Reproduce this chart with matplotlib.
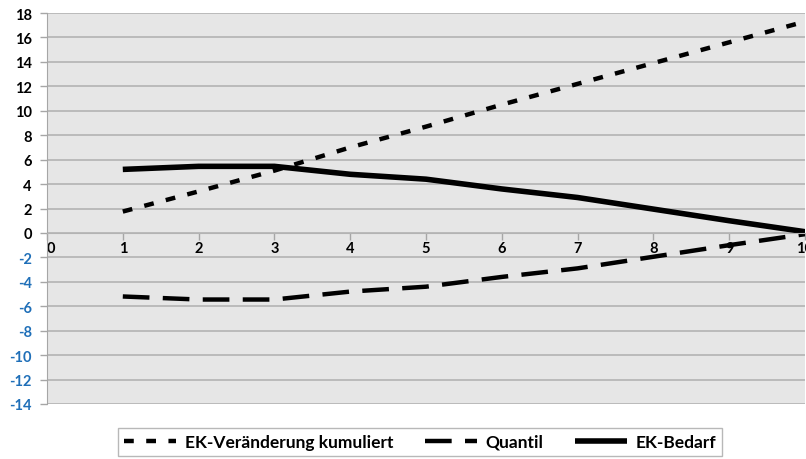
import matplotlib.pyplot as plt
import numpy as np

plt.rcParams['font.family'] = ['Lato', 'DejaVu Sans']
plt.rcParams['font.weight'] = 'bold'
plt.rcParams['axes.unicode_minus'] = False

# --- Data ---
years = [1, 2, 3, 4, 5, 6, 7, 8, 9, 10]
ek_change_cum = [1.75, 3.4, 5.1, 7.0, 8.7, 10.5, 12.2, 13.9, 15.6, 17.3]
ek_bedarf = [5.2, 5.45, 5.45, 4.8, 4.4, 3.6, 2.9, 1.95, 1.0, 0.1]
quantil = [-5.2, -5.45, -5.45, -4.8, -4.4, -3.6, -2.9, -1.95, -1.0, -0.1]
x_ticks = list(range(0, 11))
y_ticks = list(range(-14, 19, 2))

fig = plt.figure(figsize=(8.06, 4.6), dpi=100)
ax = fig.add_axes([47 / 806, 1 - 405 / 460, 758 / 806, 391 / 460])
ax.set_facecolor('#e6e6e6')

ax.plot(years, ek_change_cum, color='black', lw=3.2, dashes=(2.2, 2.8),
        dash_capstyle='butt', label='EK-Veränderung kumuliert')
ax.plot(years, quantil, color='black', lw=3.2, dashes=(6.0, 3.0),
        dash_capstyle='butt', label='Quantil')
ax.plot(years, ek_bedarf, color='black', lw=4.0, solid_capstyle='butt',
        label='EK-Bedarf')

ax.set_xlim(0, 10)
ax.set_ylim(-14, 18)
ax.set_xticks(x_ticks)
ax.set_yticks(y_ticks)
ax.yaxis.grid(True, color='#b3b3b3', lw=1.2)
ax.set_axisbelow(True)

for side in ['top', 'right']:
    ax.spines[side].set_visible(False)
ax.spines['left'].set_color('#a6a6a6')
ax.spines['bottom'].set_color('#b3b3b3')
ax.spines['bottom'].set_position(('data', 0))
ax.tick_params(axis='both', colors='#a6a6a6', length=5, width=1,
               labelsize=10.5, labelcolor='black')
ax.tick_params(axis='x', pad=1)
ax.tick_params(axis='y', pad=6)
for lbl, v in zip(ax.get_yticklabels(), y_ticks):
    lbl.set_fontweight('bold')
    if v < 0:
        lbl.set_color('#1f6fb8')
for lbl in ax.get_xticklabels():
    lbl.set_fontweight('bold')
ax.get_xticklabels()[0].set_horizontalalignment('left')

leg = fig.legend(loc='center', bbox_to_anchor=(420 / 806, 1 - 443 / 460),
                 ncol=3, frameon=True, fancybox=False, handlelength=3.0,
                 columnspacing=1.8, handletextpad=0.5, borderpad=0.35,
                 borderaxespad=0, prop={'weight': 'bold', 'size': 12.5})
leg.get_frame().set_edgecolor('#a6a6a6')
leg.get_frame().set_linewidth(1.0)

fig.savefig('out.png', dpi=100)
